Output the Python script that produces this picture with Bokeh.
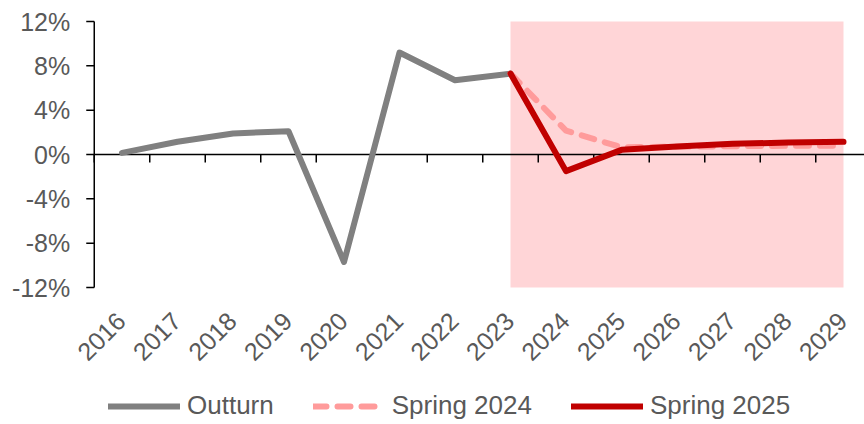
import math
from bokeh.plotting import figure
from bokeh.models import Span, BoxAnnotation, Legend, LegendItem
from bokeh.core.properties import value
from bokeh.embed import file_html
from bokeh.resources import INLINE

# ---- data ----
outturn_years = [2016, 2017, 2018, 2019, 2020, 2021, 2022, 2023]
outturn = [0.15, 1.15, 1.9, 2.1, -9.7, 9.2, 6.7, 7.3]

forecast_years = [2023, 2024, 2025, 2026, 2027, 2028, 2029]
spring_2024 = [7.3, 2.15, 0.65, 0.7, 0.75, 0.78, 0.78]
spring_2025 = [7.3, -1.5, 0.42, 0.72, 0.96, 1.08, 1.14]

all_years = list(range(2016, 2030))
year_labels = [str(y) for y in all_years]
y_ticks = [-12, -8, -4, 0, 4, 8, 12]
y_tick_labels = [f"{t}%" for t in y_ticks]
y_min, y_max = -12, 12
shade_start, shade_end = 2023, 2029

FONT = "Liberation Sans"
TXT = "#595959"

W, H = 864, 424
PX_PER_YEAR = 55.5
PX_PER_UNIT = 266 / (y_max - y_min)
axis_x = all_years[0] - 0.5          # value axis sits on the left category edge
x_start = 2023 - 510 / PX_PER_YEAR
y_top = y_max + 21 / PX_PER_UNIT
y_bottom = y_min - 137 / PX_PER_UNIT

p = figure(width=W, height=H,
           x_range=(x_start, x_start + W / PX_PER_YEAR),
           y_range=(y_bottom, y_top),
           output_backend="svg", toolbar_location=None,
           min_border_left=0, min_border_right=0, min_border_top=0,
           min_border_bottom=0)
p.xgrid.visible = False
p.ygrid.visible = False
p.xaxis.visible = False
p.yaxis.visible = False
p.outline_line_color = None
p.background_fill_color = "white"

# shaded forecast region
p.add_layout(BoxAnnotation(left=shade_start, right=shade_end, bottom=y_min, top=y_max,
                           fill_color="#FFD5D7", fill_alpha=1, line_color=None,
                           level="underlay"))

# value axis: line, ticks, labels
p.segment(x0=[axis_x], y0=[y_min], x1=[axis_x], y1=[y_max],
          line_color="black", line_width=1.5)
p.segment(x0=[axis_x - 8 / PX_PER_YEAR] * len(y_ticks), y0=y_ticks,
          x1=[axis_x] * len(y_ticks), y1=y_ticks, line_color="black", line_width=1.5)
p.text(x=[axis_x] * len(y_ticks), y=y_ticks, text=y_tick_labels,
       text_align="right", text_baseline="middle", x_offset=-24,
       text_font=value(FONT), text_font_size="25px", text_color=TXT)

# zero line with category tick marks
p.segment(x0=[axis_x], y0=[0], x1=[x_start + W / PX_PER_YEAR], y1=[0],
          line_color="black", line_width=1.5)
bounds = [y - 0.5 for y in all_years]
p.segment(x0=bounds, y0=[0] * len(bounds), x1=bounds,
          y1=[-8 / PX_PER_UNIT] * len(bounds), line_color="black", line_width=1.5)

# rotated category labels
p.text(x=all_years, y=[y_min] * len(all_years), text=year_labels,
       angle=math.pi / 4, text_align="right", text_baseline="middle",
       x_offset=-1, y_offset=29, text_font=value(FONT),
       text_font_size="25px", text_color=TXT)

r_out = p.line(outturn_years, outturn, line_color="#808080", line_width=6,
               line_cap="round", line_join="round")
r_24 = p.line(forecast_years, spring_2024, line_color="#FF9B9B", line_width=6,
              line_dash="13 11", line_cap="round", line_join="round")
r_25 = p.line(forecast_years, spring_2025, line_color="#C00000", line_width=6,
              line_cap="round", line_join="round")

legend = Legend(items=[LegendItem(label="Outturn", renderers=[r_out]),
                       LegendItem(label="Spring 2024", renderers=[r_24]),
                       LegendItem(label="Spring 2025", renderers=[r_25])],
                orientation="horizontal", location=(108, 3),
                glyph_width=72, glyph_height=20, label_standoff=7, spacing=39,
                padding=0, margin=0, border_line_color=None,
                background_fill_alpha=0, label_text_font=FONT,
                label_text_font_size="26px", label_text_color=TXT)
p.add_layout(legend, "center")

open("out.html", "w").write(file_html(p, INLINE))
